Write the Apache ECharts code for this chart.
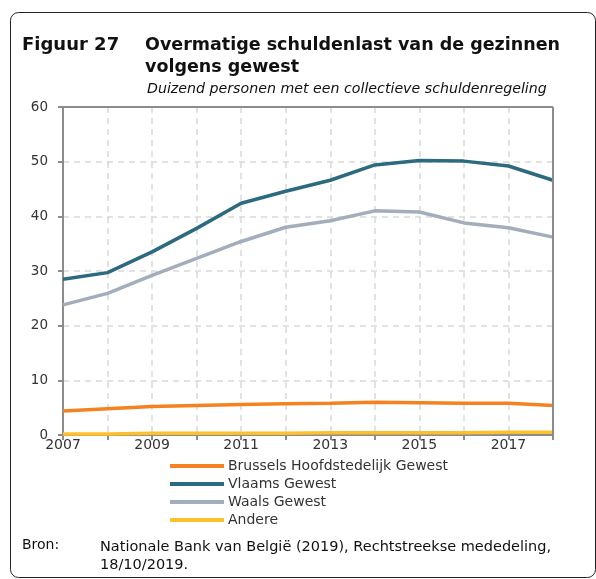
<!DOCTYPE html>
<html><head><meta charset="utf-8">
<script src="https://cdn.jsdelivr.net/npm/echarts@6/dist/echarts.min.js"></script>
<style>html,body{margin:0;padding:0;background:#fff}#c{width:596px;height:579px}</style>
</head><body><div id="c"></div>
<script>
const years = ['2007','2008','2009','2010','2011','2012','2013','2014','2015','2016','2017','2018'];
const brussels = [4.4, 4.8, 5.2, 5.4, 5.6, 5.7, 5.8, 6.0, 5.9, 5.8, 5.8, 5.4];
const vlaams   = [28.5, 29.7, 33.5, 37.8, 42.4, 44.6, 46.6, 49.4, 50.2, 50.1, 49.2, 46.6];
const waals    = [23.8, 25.9, 29.2, 32.3, 35.4, 38.0, 39.2, 41.0, 40.8, 38.8, 37.9, 36.2];
const andere   = [0.2, 0.2, 0.3, 0.3, 0.3, 0.3, 0.4, 0.4, 0.4, 0.4, 0.5, 0.5];
const names = ['Brussels Hoofdstedelijk Gewest','Vlaams Gewest','Waals Gewest','Andere'];
const colors = ['#F58220','#2C6A7F','#A3ADBB','#FDC12D'];
const yTicks = [0,10,20,30,40,50,60];

const font = 'DejaVu Sans';
const chart = echarts.init(document.getElementById('c'), null, {renderer:'canvas'});
const mk = (name, data, color, z) => ({
  name, type:'line', data, symbol:'none', smooth:false, z,
  lineStyle:{color, width:3.5}, itemStyle:{color}
});
chart.setOption({
  animation:false,
  color: colors,
  textStyle:{fontFamily:font},
  grid:{left:63, right:43, top:107, bottom:144, containLabel:false, show:false},
  xAxis:{
    type:'category', data:years, boundaryGap:false,
    axisLine:{show:true, lineStyle:{color:'#8c8c8c', width:2}},
    axisTick:{show:true, inside:false, length:5, interval:0, lineStyle:{color:'#8c8c8c', width:2}},
    axisLabel:{interval:1, color:'#333', fontSize:14, margin:3, fontFamily:font},
    splitLine:{show:true, interval:0, lineStyle:{color:'#d9d9d9', type:[6,5], width:1.5}}
  },
  yAxis:{
    type:'value', min:0, max:60, interval:10,
    axisLine:{show:true, lineStyle:{color:'#8c8c8c', width:2}},
    axisTick:{show:true, length:5, lineStyle:{color:'#8c8c8c', width:2}},
    axisLabel:{color:'#333', fontSize:13.5, margin:15, fontFamily:font,
      formatter: v => yTicks.includes(v) ? String(v) : ''},
    splitLine:{show:true, lineStyle:{color:'#d9d9d9', type:[6,5], width:1.5}}
  },
  legend:{
    orient:'vertical', left:165, top:454, itemWidth:54, itemHeight:4, itemGap:4,
    icon:'rect', data:names,
    textStyle:{fontFamily:font, fontSize:14, color:'#333', padding:[0,0,0,-1]}
  },
  series:[
    mk(names[3], andere, colors[3], 3),
    mk(names[2], waals, colors[2], 3),
    mk(names[1], vlaams, colors[1], 4),
    mk(names[0], brussels, colors[0], 5)
  ],
  graphic:[
    {type:'rect', shape:{x:10.5, y:12.5, width:585, height:565, r:8}, style:{fill:'none', stroke:'#222', lineWidth:1}, z:-1},
    {type:'line', shape:{x1:63, y1:107, x2:553, y2:107}, style:{stroke:'#8c8c8c', lineWidth:2}, z:10},
    {type:'line', shape:{x1:553, y1:107, x2:553, y2:440}, style:{stroke:'#8c8c8c', lineWidth:2}, z:10},
    {type:'text', left:22, top:36, style:{text:'Figuur 27', font:'bold 18px "DejaVu Sans"', fill:'#111'}},
    {type:'text', left:145, top:36, style:{text:'Overmatige schuldenlast van de gezinnen', font:'bold 17.5px "DejaVu Sans"', fill:'#111'}},
    {type:'text', left:145, top:58, style:{text:'volgens gewest', font:'bold 17.5px "DejaVu Sans"', fill:'#111'}},
    {type:'text', left:147, top:82, style:{text:'Duizend personen met een collectieve schuldenregeling', font:'italic 14.2px "DejaVu Sans"', fill:'#111'}},
    {type:'text', left:22, top:538, style:{text:'Bron:', font:'14px "DejaVu Sans"', fill:'#111'}},
    {type:'text', left:100, top:538, style:{text:'Nationale Bank van België (2019), Rechtstreekse mededeling,\n18/10/2019.', font:'14.5px "DejaVu Sans"', fill:'#111', lineHeight:18}}
  ]
});
</script></body></html>
